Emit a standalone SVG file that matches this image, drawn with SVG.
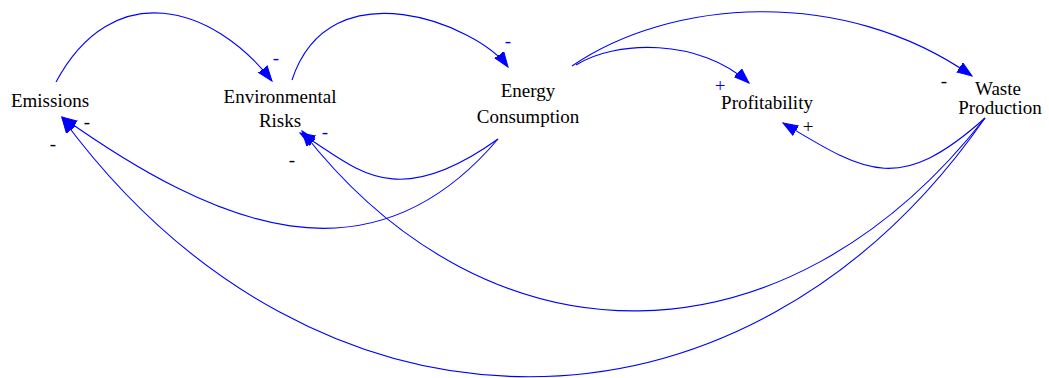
<svg xmlns="http://www.w3.org/2000/svg" width="1049" height="378" viewBox="0 0 1049 378">
<style>
.node text{font-family:'Liberation Serif','Times New Roman',Times,'DejaVu Serif',serif;font-size:19px;fill:#000;text-anchor:middle}
.edge path{fill:none;stroke:#0000ff;stroke-width:1.1}
.lbl{font-family:'Liberation Serif','Times New Roman',Times,'DejaVu Serif',serif;font-size:19px;text-anchor:middle}
.blue{fill:#0000ff}
.black{fill:#000}
</style>
<defs>
<marker id="ah" markerUnits="userSpaceOnUse" markerWidth="17" markerHeight="13" refX="15" refY="6" orient="auto">
<path d="M0,0.5 L15,6 L0,11.5 z" fill="#0000ff" stroke="#0000ff" stroke-width="1"/>
</marker>
</defs>
<rect width="1049" height="378" fill="#fff"/>
<g id="connectors" class="edge">
<path d="M56,82 C113,-24 213,5 272,81" marker-end="url(#ah)"/>
<path d="M292,80 C330,-35 478,25 508,67" marker-end="url(#ah)"/>
<path d="M576,65 C615,40 700,38 749,83" marker-end="url(#ah)"/>
<path d="M572,66 C670,-1 842,-15 972,76" marker-end="url(#ah)"/>
<path d="M985,118 C899,195 866,173 783,123" marker-end="url(#ah)"/>
<path d="M498,139 C392,215 355,166 300,133" marker-end="url(#ah)"/>
<path d="M498,139 C370,290 217,227 62,117" marker-end="url(#ah)"/>
<path d="M985,118 C785,373 490,373 302,131" marker-end="url(#ah)"/>
<path d="M985,118 C745,463 316,463 62,118" marker-end="url(#ah)"/>
</g>
<g id="edge-labels">
<text class="lbl blue" x="276" y="64">-</text>
<text class="lbl blue" x="508" y="47">-</text>
<text class="lbl blue" x="720" y="92">+</text>
<text class="lbl black" x="944" y="87">-</text>
<text class="lbl black" x="808" y="133">+</text>
<text class="lbl blue" x="325" y="138">-</text>
<text class="lbl black" x="87" y="128">-</text>
<text class="lbl black" x="292" y="166">-</text>
<text class="lbl black" x="53" y="150">-</text>
</g>
<g id="node-emissions" class="node"><text x="50" y="107">Emissions</text></g>
<g id="node-environmental-risks" class="node"><text x="280" y="103">Environmental</text><text x="280" y="127">Risks</text></g>
<g id="node-energy-consumption" class="node"><text x="528" y="97">Energy</text><text x="528" y="123">Consumption</text></g>
<g id="node-profitability" class="node"><text x="767" y="109">Profitability</text></g>
<g id="node-waste-production" class="node"><text x="998" y="95">Waste</text><text x="1000" y="114">Production</text></g>
</svg>
